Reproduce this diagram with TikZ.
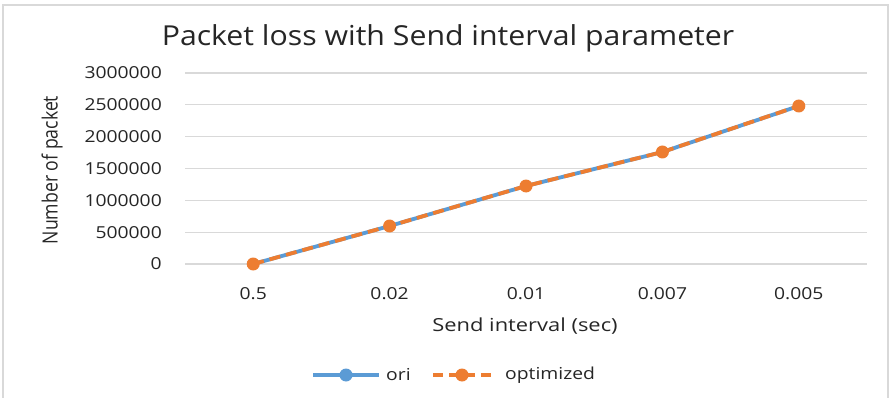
\documentclass[tikz,border=0pt]{standalone}
\usepackage{fontspec}
\setmainfont{Open Sans}
\definecolor{sblue}{HTML}{5B9BD5}
\definecolor{sorange}{HTML}{ED7D31}
\definecolor{grid}{HTML}{D9D9D9}
\definecolor{txt}{HTML}{262626}
\begin{document}
\begin{tikzpicture}[x=1pt,y=-1pt,
  gridline/.style={draw=grid,line width=1.2pt},
  ticklab/.style={text=txt,font=\fontsize{16.5}{16.5}\selectfont,xscale=1.17,inner sep=0pt},
  oriline/.style={draw=sblue,line width=3.8pt},
  optline/.style={draw=sorange,line width=3.8pt,dash pattern=on 11pt off 6pt},
  omark/.style={circle,fill=sorange,minimum size=13pt,inner sep=0pt},
  bmark/.style={circle,fill=sblue,minimum size=13pt,inner sep=0pt}]
\useasboundingbox (0,0) rectangle (893,398);
\fill[white] (0,0) rectangle (893,398);
\draw[grid,line width=1.5pt] (3,398) -- (3,5) -- (888,5) -- (888,398);
% title
\node[text=txt,font=\fontsize{27.5}{27.5}\selectfont,xscale=1.1] (title) at (448,38) {Packet loss with Send interval parameter};
% gridlines and y labels
\foreach \lab [count=\i from 0] in {0,500000,1000000,1500000,2000000,2500000,3000000}{
  \pgfmathsetmacro{\yy}{264-\i*31.83}
  \draw[gridline] (185,\yy) -- (867,\yy);
  \node[ticklab,anchor=east] (yl\i) at (162,\yy) {\lab};
}
% x labels
\foreach \lab [count=\i from 0] in {0.5,0.02,0.01,0.007,0.005}{
  \pgfmathsetmacro{\xx}{253.2+\i*136.4}
  \node[ticklab] (xl\i) at (\xx,294) {\lab};
}
% axis titles
\node[text=txt,font=\fontsize{21}{21}\selectfont,rotate=90,xscale=0.84] (ytitle) at (52,170) {Number of packet};
\node[ticklab,font=\fontsize{18}{18}\selectfont,xscale=1.04] (xtitle) at (525,326) {Send interval (sec)};
% data
\coordinate (p0) at (253.2,264);
\coordinate (p1) at (389.6,226);
\coordinate (p2) at (526.0,186);
\coordinate (p3) at (662.4,152);
\coordinate (p4) at (798.8,106);
\draw[oriline] (p0) -- (p1) -- (p2) -- (p3) -- (p4);
\draw[optline] (p0) -- (p1) -- (p2) -- (p3) -- (p4);
\foreach \i in {0,...,4}{ \node[omark] (m\i) at (p\i) {}; }
% legend
\coordinate (la) at (313,375);
\coordinate (lb) at (379,375);
\draw[oriline] (la) -- (lb);
\node[bmark] (lm1) at (346,375) {};
\node[ticklab,anchor=west] (lt1) at (386,375) {ori};
\coordinate (lc) at (433,375);
\coordinate (ld) at (497,375);
\draw[optline,dash pattern=on 10pt off 6pt] (lc) -- (ld);
\node[omark] (lm2) at (462,375) {};
\node[ticklab,anchor=west] (lt2) at (505,375) {optimized};
\end{tikzpicture}
\end{document}
